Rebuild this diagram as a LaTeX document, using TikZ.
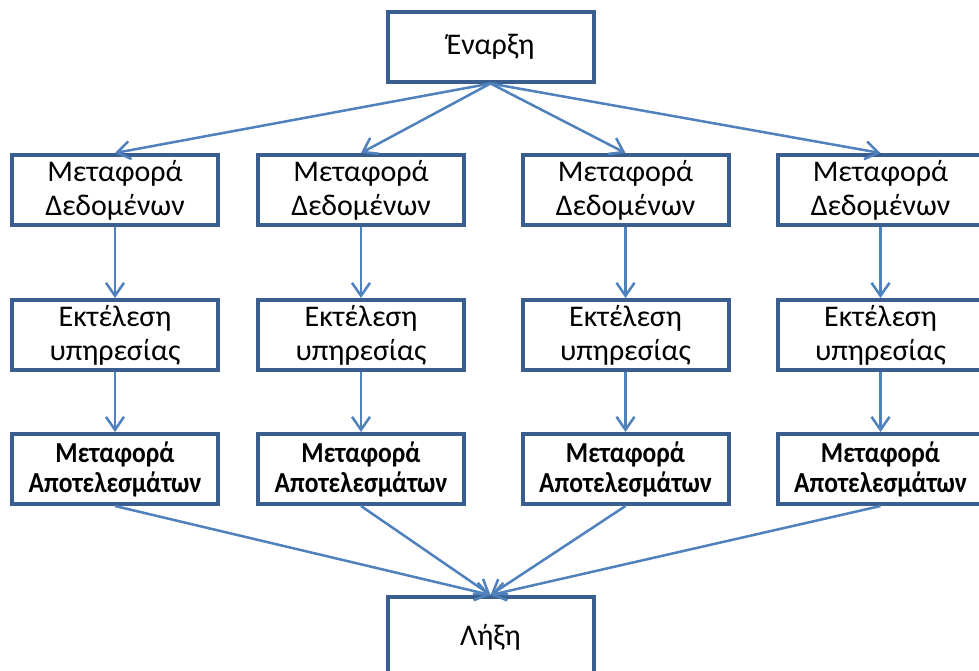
\documentclass[tikz,border=0pt]{standalone}
\usepackage{fontspec}
\setmainfont{Carlito}
\newfontfamily\narrowbold[FakeStretch=0.88]{Carlito Bold}
\usetikzlibrary{arrows.meta}
\definecolor{boxline}{HTML}{3A5F8E}
\definecolor{flowline}{HTML}{4F81BD}
\tikzset{
  stepbox/.style={draw=boxline, line width=4pt, fill=white, rectangle,
    minimum width=206pt, minimum height=70pt, inner sep=0pt, align=center,
    font=\fontsize{30}{34}\selectfont},
  resultbox/.style={stepbox, font=\narrowbold\fontsize{29}{30}\selectfont},
  flow/.style={draw=flowline, line width=2.5pt,
    -{Straight Barb[length=13pt,width=18pt,line width=2.5pt]}},
}
\begin{document}
\begin{tikzpicture}[x=1pt,y=-1pt]
\clip (0,0) rectangle (979,670);
\fill[white] (0,0) rectangle (979,670);

% start and end
\node[stepbox] (top) at (490.5,46.5) {Έναρξη};
\node[stepbox, minimum height=80pt] (end) at (490.5,637) {Λήξη};

% the four parallel branches
\foreach \i/\cx in {1/115,2/361,3/625.5,4/880.5}{
  \node[stepbox] (d\i) at (\cx,190) {Μεταφορά\\Δεδομένων};
  \node[stepbox] (e\i) at (\cx,335) {Εκτέλεση\\υπηρεσίας};
  \node[resultbox] (r\i) at (\cx,469) {Μεταφορά\\Αποτελεσμάτων};
}

% connectors
\foreach \i in {1,2,3,4}{
  \draw[flow] (top.south) -- (d\i.north);
  \draw[flow] (d\i) -- (e\i);
  \draw[flow] (e\i) -- (r\i);
  \draw[flow] (r\i.south) -- (end.north);
}
\end{tikzpicture}
\end{document}
